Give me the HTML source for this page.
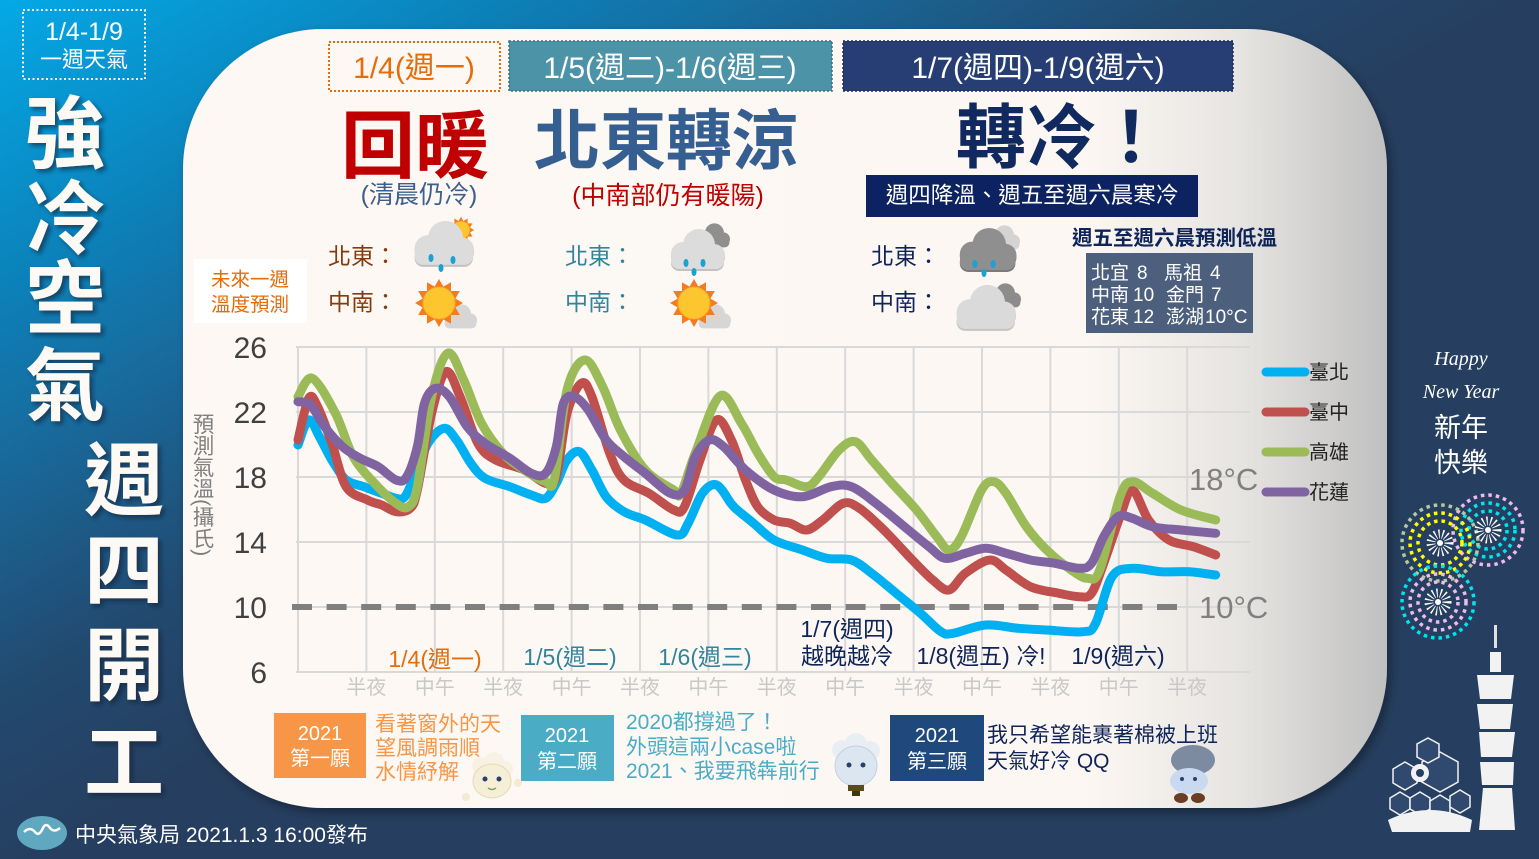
<!DOCTYPE html>
<html><head><meta charset="utf-8">
<style>
html,body{margin:0;padding:0;}
body{width:1539px;height:859px;overflow:hidden;position:relative;
background:linear-gradient(150deg,#04a9e6 0%,#0c80b8 17%,#176da0 25%,#22496f 40%,#263f60 50%,#263f60 100%);}
svg{position:absolute;left:0;top:0;}
svg text{font-family:"Liberation Sans","Noto Sans CJK TC",sans-serif;}
</style></head><body>
<svg id="root" width="1539" height="859" viewBox="0 0 1539 859" xmlns="http://www.w3.org/2000/svg">
<defs>
<linearGradient id="pg" x1="183" y1="0" x2="1387" y2="0" gradientUnits="userSpaceOnUse">
<stop offset="0" stop-color="#fdf8f4"/><stop offset="0.75" stop-color="#fcf7f3"/><stop offset="0.88" stop-color="#e6e4e1"/><stop offset="1" stop-color="#c0c0c0"/>
</linearGradient>
<filter id="psh" x="-5%" y="-5%" width="110%" height="115%"><feDropShadow dx="4" dy="5" stdDeviation="5" flood-color="#000" flood-opacity="0.35"/></filter>
<filter id="tsh" x="-20%" y="-20%" width="150%" height="150%"><feDropShadow dx="3" dy="3" stdDeviation="2" flood-color="#0a1a30" flood-opacity="0.6"/></filter>
<polygon id="star" points="24,0 16.4,4.4 20.8,12 12,12 12,20.8 4.4,16.4 0,24 -4.4,16.4 -12,20.8 -12,12 -20.8,12 -16.4,4.4 -24,0 -16.4,-4.4 -20.8,-12 -12,-12 -12,-20.8 -4.4,-16.4 0,-24 4.4,-16.4 12,-20.8 12,-12 20.8,-12 16.4,-4.4"/>
<g id="cloud"><circle cx="-12" cy="4" r="12"/><circle cx="4" cy="-5" r="16"/><circle cx="19" cy="5" r="11"/><rect x="-24" y="3" width="53" height="16" rx="8"/></g>
</defs>

<!-- top-left box -->
<rect x="23" y="10" width="122" height="69" fill="none" stroke="#ffffff" stroke-width="2" stroke-dasharray="2 2.5"/>
<text x="84" y="40" font-size="25" fill="#fff" text-anchor="middle">1/4-1/9</text>
<text x="84" y="67" font-size="22" fill="#fff" text-anchor="middle">一週天氣</text>

<!-- left big title -->
<g filter="url(#tsh)" fill="#fdfaf6" font-weight="bold" font-size="80" text-anchor="middle">
<text x="65" y="162">強</text>
<text x="65" y="247">冷</text>
<text x="65" y="327">空</text>
<text x="65" y="414">氣</text>
<text x="124" y="509">週</text>
<text x="124" y="599">四</text>
<text x="124" y="694">開</text>
<text x="124" y="791">工</text>
</g>

<!-- main panel -->
<rect x="183" y="29" width="1204" height="779" rx="140" ry="140" fill="url(#pg)" filter="url(#psh)"/>

<!-- headers -->
<rect x="329" y="42" width="171" height="49" fill="none" stroke="#e46c0a" stroke-width="2" stroke-dasharray="2 2"/>
<text x="414" y="78" font-size="30" fill="#e46c0a" text-anchor="middle">1/4(週一)</text>
<rect x="509" y="41" width="323" height="50" fill="#4d93a8" stroke="#3a6f82" stroke-width="1.5" stroke-dasharray="2 2"/>
<text x="670" y="78" font-size="30" fill="#fff" text-anchor="middle">1/5(週二)-1/6(週三)</text>
<rect x="843" y="41" width="390" height="50" fill="#263e74" stroke="#1a2c58" stroke-width="1.5" stroke-dasharray="2 2"/>
<text x="1038" y="78" font-size="30" fill="#fff" text-anchor="middle">1/7(週四)-1/9(週六)</text>

<!-- big words -->
<text x="415" y="172" font-size="74" font-weight="bold" fill="#c00000" text-anchor="middle">回暖</text>
<text x="419" y="203" font-size="25" fill="#3d5f8c" text-anchor="middle">(清晨仍冷)</text>
<text x="666" y="164" font-size="66" font-weight="bold" fill="#365f91" text-anchor="middle">北東轉涼</text>
<text x="668" y="204" font-size="25" fill="#c00000" text-anchor="middle">(中南部仍有暖陽)</text>
<text x="956" y="162" font-size="70" font-weight="bold" fill="#10295e">轉冷！</text>
<rect x="866" y="175" width="332" height="42" fill="#0d2260"/>
<text x="1032" y="203" font-size="22.5" fill="#fff" text-anchor="middle">週四降溫、週五至週六晨寒冷</text>

<!-- region labels -->
<g font-size="23">
<text x="328" y="264" fill="#843c0c">北東：</text>
<text x="328" y="310" fill="#843c0c">中南：</text>
<text x="565" y="264" fill="#31849b">北東：</text>
<text x="565" y="310" fill="#31849b">中南：</text>
<text x="871" y="264" fill="#0f2458">北東：</text>
<text x="871" y="310" fill="#0f2458">中南：</text>
</g>

<!-- icons: 1/4 north -->
<g transform="translate(461,230) scale(0.55)"><use href="#star" fill="#f47b20"/><circle r="16" fill="#fdc62f"/></g>
<use href="#cloud" transform="translate(441,246) scale(1.1)" fill="#c2c2c2"/>
<use href="#cloud" transform="translate(441,244) scale(1.1)" fill="#dcdcdc"/>
<g fill="#1ba1d4"><ellipse cx="431" cy="258" rx="2.5" ry="4"/><ellipse cx="453" cy="260" rx="2.5" ry="4"/><ellipse cx="441" cy="268" rx="2.5" ry="4"/></g>
<!-- 1/4 south -->
<use href="#cloud" transform="translate(459,317) scale(0.6)" fill="#d6d6d6"/>
<g transform="translate(439,303)"><use href="#star" fill="#f47b20"/><circle r="16" fill="#fdc62f" stroke="#f9a825" stroke-width="1"/></g>
<!-- middle north -->
<use href="#cloud" transform="translate(712,236) scale(0.6)" fill="#8f8f8f"/>
<use href="#cloud" transform="translate(695,252) scale(1.0)" fill="#c2c2c2"/>
<use href="#cloud" transform="translate(695,250) scale(1.0)" fill="#dcdcdc"/>
<g fill="#1ba1d4"><ellipse cx="686" cy="263" rx="2.5" ry="4"/><ellipse cx="703" cy="263" rx="2.5" ry="4"/><ellipse cx="694" cy="272" rx="2.5" ry="4"/></g>
<!-- middle south -->
<use href="#cloud" transform="translate(713,317) scale(0.6)" fill="#d6d6d6"/>
<g transform="translate(694,303)"><use href="#star" fill="#f47b20"/><circle r="16" fill="#fdc62f" stroke="#f9a825" stroke-width="1"/></g>
<!-- right north -->
<use href="#cloud" transform="translate(1002,238) scale(0.6)" fill="#d4d4d4"/>
<use href="#cloud" transform="translate(985,252) scale(1.05)" fill="#7a7a7a"/>
<use href="#cloud" transform="translate(985,250) scale(1.05)" fill="#8f8f8f"/>
<g fill="#1ba1d4"><ellipse cx="975" cy="264" rx="2.5" ry="4"/><ellipse cx="993" cy="264" rx="2.5" ry="4"/><ellipse cx="984" cy="273" rx="2.5" ry="4"/></g>
<!-- right south -->
<use href="#cloud" transform="translate(1003,296) scale(0.6)" fill="#8c8c8c"/>
<use href="#cloud" transform="translate(983,310) scale(1.1)" fill="#c4c4c4"/>
<use href="#cloud" transform="translate(983,308) scale(1.1)" fill="#dadada"/>

<!-- forecast label box -->
<rect x="194" y="259" width="113" height="64" fill="#ffffff"/>
<text x="250" y="286" font-size="19.5" fill="#e46c0a" text-anchor="middle">未來一週</text>
<text x="250" y="311" font-size="19.5" fill="#e46c0a" text-anchor="middle">溫度預測</text>

<!-- low temp box -->
<text x="1072" y="245" font-size="20.5" font-weight="bold" fill="#0f2458">週五至週六晨預測低溫</text>
<rect x="1086" y="253" width="167" height="80" fill="#4c5f7d"/>
<g font-size="19" fill="#fff">
<text x="1091" y="279">北宜</text><text x="1137" y="279">8</text><text x="1164" y="279">馬祖</text><text x="1210" y="279">4</text>
<text x="1091" y="301">中南</text><text x="1133" y="301">10</text><text x="1166" y="301">金門</text><text x="1211" y="301">7</text>
<text x="1091" y="323">花東</text><text x="1133" y="323">12</text><text x="1166" y="323">澎湖</text><text x="1205" y="323">10°C</text>
</g>

<!-- chart grid -->
<g stroke="#d9d9d9" stroke-width="2">
<line x1="296" y1="347" x2="1250" y2="347"/>
<line x1="296" y1="412" x2="1250" y2="412"/>
<line x1="296" y1="477" x2="1250" y2="477"/>
<line x1="296" y1="542" x2="1250" y2="542"/>
<line x1="296" y1="607" x2="1250" y2="607"/>
<line x1="296" y1="672" x2="1250" y2="672"/>
<line x1="298" y1="347" x2="298" y2="672"/>
<line x1="366.4" y1="347" x2="366.4" y2="672"/>
<line x1="434.8" y1="347" x2="434.8" y2="672"/>
<line x1="503.2" y1="347" x2="503.2" y2="672"/>
<line x1="571.6" y1="347" x2="571.6" y2="672"/>
<line x1="640" y1="347" x2="640" y2="672"/>
<line x1="708.4" y1="347" x2="708.4" y2="672"/>
<line x1="776.8" y1="347" x2="776.8" y2="672"/>
<line x1="845.2" y1="347" x2="845.2" y2="672"/>
<line x1="913.6" y1="347" x2="913.6" y2="672"/>
<line x1="982" y1="347" x2="982" y2="672"/>
<line x1="1050.4" y1="347" x2="1050.4" y2="672"/>
<line x1="1118.8" y1="347" x2="1118.8" y2="672"/>
<line x1="1187.2" y1="347" x2="1187.2" y2="672"/>
</g>
<line x1="292" y1="607" x2="1186" y2="607" stroke="#7f7f7f" stroke-width="6" stroke-dasharray="20 14.6"/>

<!-- y ticks -->
<g font-size="30" fill="#404040" text-anchor="end">
<text x="267" y="358">26</text>
<text x="267" y="423">22</text>
<text x="267" y="488">18</text>
<text x="267" y="553">14</text>
<text x="267" y="618">10</text>
<text x="267" y="683">6</text>
</g>
<text x="202" y="413" font-size="21.5" fill="#7f7f7f" writing-mode="tb" style="writing-mode:vertical-rl">預測氣溫(攝氏)</text>

<!-- x labels -->
<g font-size="20" fill="#c8c8c8" text-anchor="middle">
<text x="366.4" y="694">半夜</text><text x="434.8" y="694">中午</text>
<text x="503.2" y="694">半夜</text><text x="571.6" y="694">中午</text>
<text x="640" y="694">半夜</text><text x="708.4" y="694">中午</text>
<text x="776.8" y="694">半夜</text><text x="845.2" y="694">中午</text>
<text x="913.6" y="694">半夜</text><text x="982" y="694">中午</text>
<text x="1050.4" y="694">半夜</text><text x="1118.8" y="694">中午</text>
<text x="1187.2" y="694">半夜</text>
</g>

<!-- series -->
<g id="series" fill="none" stroke-width="9" stroke-linejoin="round" stroke-linecap="round">
<polyline class="s" stroke="#00b0f0" points="298,445 308.7,420 319.4,436.7 331.8,460 346.1,480 363.9,486.7 381.7,493.3 396,498.3 404.9,496.7 415,475 428,443.3 444,428.3 456.5,440 470.8,463.3 485,478.3 509.9,486.7 531.3,495 545.6,498.3 556.3,483.3 567,460 579.4,451.7 591.9,470 606.1,496.7 624,511.7 645.3,520 677.4,535 688.1,523.3 702.4,493.3 716.6,485 730.9,503.3 737.3,510 753.6,523.3 774,540 802.5,550 826.9,558.3 851.5,560 871.7,573.3 896.2,593.3 920.5,613.3 941,631.7 953.1,633.3 985.7,625 1018.3,628.3 1046.7,630 1083.4,631.7 1095.6,623.3 1112,576.7 1132.3,568.3 1160.8,571.7 1189.4,571.7 1215.7,575"/>
<polyline class="s" stroke="#c0504d" points="298,440 308.7,398.3 317.6,406.7 331.8,443.3 346.1,486.7 367.5,500 381.7,505 396,511.7 410.2,508.3 417.3,490 431.6,413.3 445.8,371.7 460.1,396.7 477.9,443.3 495.7,460 524.2,470 545.6,483.3 556.3,476.7 567,413.3 581.3,383.3 591.9,396.7 609.7,453.3 624,480 648.9,493.3 673.8,510 684.5,506.7 700,460 716.4,420 731.4,440 745.5,480 757.7,506.7 774,520 790.2,523.3 806.5,530 822.8,520 843.2,503.3 859.5,508.3 883.9,530 912.4,560 932.8,580 949,590 965.3,573.3 989.7,560 1006,570 1030.5,586.7 1059,593.3 1079.3,596.7 1091.5,593.3 1103.7,563.3 1120,516.7 1132.3,490 1148.6,520 1168.9,540 1193.4,546.7 1215.7,555"/>
<polyline class="s" stroke="#9bbb59" points="298,396.7 312.3,378.3 335.4,413.3 353.2,456.7 374.6,483.3 396,503.3 408.4,506.7 417.3,486.7 431.6,396.7 447.6,353.3 463.7,380 481.5,423.3 502.8,453.3 524.2,470 545.6,481.7 554.5,478.3 567,390 584.8,360 602.6,386.7 620.4,430 645.3,470 673.8,490 680.9,493.3 695.2,453.3 720,396 741.4,423.3 757.7,453 774,476.7 786.2,480 806.5,486.7 818.7,476.7 839.1,450 855.4,441.7 871.7,460 892,483.3 916.5,510 936.8,536.7 949,550 961.3,536.7 981.6,490 993.8,481.7 1006,493.3 1026.4,526.7 1046.7,550 1071.2,570 1087.5,578.3 1099.7,570 1120,496.7 1132.3,481.7 1152.6,493.3 1181.1,510 1215.7,520"/>
<polyline class="s" stroke="#8064a2" points="298,401.7 310.5,405 324.7,426.7 342.5,446.7 360.3,458.3 378.2,466.7 396,480 406.7,476.7 417.3,446.7 424.5,403.3 435.2,388.3 449.4,396.7 467.2,426.7 485,443.3 509.9,458.3 531.3,473.3 545.6,473.3 556.3,446.7 563.4,403.3 574.1,396.7 588.3,410 606.1,440 624,456.7 645.3,473.3 670.3,493.3 684.5,490 695.2,456.7 709.4,440 723.7,446.7 745.5,470 774,490 802.5,496.7 831,486.7 851.5,486.7 875.9,503.3 904.4,526.7 928.9,546.7 945.1,558.3 965.5,553.3 985.8,548.3 1006.2,553.3 1030.6,560 1055,563.3 1079.3,568.3 1091.5,563.3 1103.7,536.7 1118,516.7 1132.3,518.3 1152.6,526.7 1181.1,530 1215.7,533.3"/>
</g>

<!-- ref labels -->
<text x="1189" y="490" font-size="31" fill="#808080">18°C</text>
<text x="1199" y="618" font-size="31" fill="#808080">10°C</text>

<!-- legend -->
<g stroke-width="9" stroke-linecap="round">
<line x1="1266" y1="372" x2="1305" y2="372" stroke="#00b0f0"/>
<line x1="1266" y1="412" x2="1305" y2="412" stroke="#c0504d"/>
<line x1="1266" y1="452" x2="1305" y2="452" stroke="#9bbb59"/>
<line x1="1266" y1="492" x2="1305" y2="492" stroke="#8064a2"/>
</g>
<g font-size="20" fill="#222">
<text x="1309" y="379">臺北</text>
<text x="1309" y="419">臺中</text>
<text x="1309" y="459">高雄</text>
<text x="1309" y="499">花蓮</text>
</g>

<!-- day labels in chart -->
<g font-size="23" text-anchor="middle">
<text x="435" y="667" fill="#e46c0a">1/4(週一)</text>
<text x="570" y="665" fill="#31849b">1/5(週二)</text>
<text x="705" y="665" fill="#31849b">1/6(週三)</text>
<text x="847" y="637" fill="#0f2458">1/7(週四)</text>
<text x="847" y="664" fill="#0f2458">越晚越冷</text>
<text x="981" y="664" fill="#0f2458">1/8(週五) 冷!</text>
<text x="1118" y="664" fill="#0f2458">1/9(週六)</text>
</g>

<!-- bottom wishes -->
<rect x="274" y="713" width="92" height="65" fill="#f79646"/>
<text x="320" y="740" font-size="20" fill="#fff" text-anchor="middle">2021</text>
<text x="320" y="765" font-size="20" fill="#fff" text-anchor="middle">第一願</text>
<g font-size="21" fill="#f79646">
<text x="375" y="731">看著窗外的天</text>
<text x="375" y="755">望風調雨順</text>
<text x="375" y="779">水情紓解</text>
</g>
<rect x="521" y="715" width="93" height="66" fill="#4bacc6"/>
<text x="567" y="742" font-size="20" fill="#fff" text-anchor="middle">2021</text>
<text x="567" y="768" font-size="20" fill="#fff" text-anchor="middle">第二願</text>
<g font-size="21" fill="#4bacc6">
<text x="626" y="729">2020都撐過了！</text>
<text x="626" y="754">外頭這兩小case啦</text>
<text x="626" y="778">2021、我要飛犇前行</text>
</g>
<rect x="890" y="715" width="94" height="66" fill="#1f497d"/>
<text x="937" y="742" font-size="20" fill="#fff" text-anchor="middle">2021</text>
<text x="937" y="768" font-size="20" fill="#fff" text-anchor="middle">第三願</text>
<g font-size="21" fill="#0f2458">
<text x="987" y="742">我只希望能裹著棉被上班</text>
<text x="987" y="768">天氣好冷 QQ</text>
</g>

<!-- mascots -->
<g>
<circle cx="466" cy="797" r="4" fill="#f3ead0"/><circle cx="518" cy="783" r="4" fill="#f3ead0"/>
<circle cx="481" cy="766" r="9" fill="#f7f2e4"/><circle cx="494" cy="762" r="10" fill="#f7f2e4"/><circle cx="505" cy="769" r="8" fill="#f7f2e4"/>
<ellipse cx="492" cy="781" rx="19" ry="17" fill="#f6efd8" stroke="#e7d9b3" stroke-width="1"/>
<circle cx="485" cy="779" r="2.5" fill="#2a3f6c"/><circle cx="499" cy="779" r="2.5" fill="#2a3f6c"/>
<path d="M488 788 q4 3 8 0" stroke="#8aa060" stroke-width="1.5" fill="none"/>
</g>
<g>
<circle cx="842" cy="750" r="10" fill="#e9eef4"/><circle cx="856" cy="744" r="11" fill="#e9eef4"/><circle cx="870" cy="751" r="10" fill="#e9eef4"/>
<ellipse cx="856" cy="766" rx="21" ry="20" fill="#dce6f0" stroke="#c2d0e0" stroke-width="1"/>
<circle cx="849" cy="765" r="2.5" fill="#2a3f6c"/><circle cx="863" cy="765" r="2.5" fill="#2a3f6c"/>
<rect x="848" y="785" width="16" height="6" fill="#5a4a1c"/><rect x="852" y="791" width="8" height="5" fill="#3f3514"/>
</g>
<g>
<ellipse cx="1193" cy="760" rx="22" ry="15" fill="#7d8ba0"/>
<ellipse cx="1189" cy="781" rx="19" ry="13" fill="#c9daf0"/>
<circle cx="1182" cy="779" r="2" fill="#2a3f6c"/><circle cx="1195" cy="779" r="2" fill="#2a3f6c"/>
<ellipse cx="1181" cy="798" rx="7" ry="5" fill="#6b3d22"/><ellipse cx="1198" cy="798" rx="7" ry="5" fill="#6b3d22"/>
</g>

<!-- footer -->
<ellipse cx="42" cy="833" rx="25" ry="17" fill="#5fa8bf"/>
<path d="M24 832 q6 -6 11 0 q4 5 8 -4 q3 -6 7 0 q4 5 10 0" stroke="#fff" stroke-width="2.5" fill="none"/>
<text x="75" y="842" font-size="21" fill="#fff">中央氣象局 2021.1.3 16:00發布</text>

<!-- right side -->
<text x="1461" y="365" font-size="20" fill="#fff" text-anchor="middle" font-style="italic" style="font-family:'Liberation Serif',serif">Happy</text>
<text x="1461" y="398" font-size="20" fill="#fff" text-anchor="middle" font-style="italic" style="font-family:'Liberation Serif',serif">New Year</text>
<text x="1461" y="437" font-size="27" fill="#fff" text-anchor="middle">新年</text>
<text x="1461" y="472" font-size="27" fill="#fff" text-anchor="middle">快樂</text>

<!-- fireworks -->
<g fill="none" stroke-width="3.5">
<circle cx="1488" cy="530" r="35" stroke="#eebbee" stroke-dasharray="3.5 4"/>
<circle cx="1488" cy="530" r="27" stroke="#00e5ee" stroke-dasharray="3.5 4"/>
<circle cx="1488" cy="530" r="19" stroke="#00e5ee" stroke-dasharray="3.5 4"/>
<circle cx="1440" cy="543" r="38" stroke="#b5c99a" stroke-dasharray="3.5 4"/>
<circle cx="1440" cy="543" r="30" stroke="#ffff00" stroke-dasharray="3.5 4"/>
<circle cx="1440" cy="543" r="22" stroke="#ffff00" stroke-dasharray="3.5 4"/>
<circle cx="1438" cy="602" r="36" stroke="#00e5ee" stroke-dasharray="3.5 4"/>
<circle cx="1438" cy="602" r="28" stroke="#eebbee" stroke-dasharray="3.5 4"/>
<circle cx="1438" cy="602" r="20" stroke="#eebbee" stroke-dasharray="3.5 4"/>
<circle cx="1440" cy="543" r="9" stroke="#fff" stroke-width="9" stroke-dasharray="1.2 2.5"/>
<circle cx="1488" cy="530" r="9" stroke="#fff" stroke-width="9" stroke-dasharray="1.2 2.5"/>
<circle cx="1438" cy="602" r="9" stroke="#fff" stroke-width="9" stroke-dasharray="1.2 2.5"/>
</g>
<circle cx="1440" cy="543" r="3" fill="#fff"/><circle cx="1488" cy="530" r="3" fill="#fff"/><circle cx="1438" cy="602" r="3" fill="#fff"/>

<!-- Taipei 101 -->
<g fill="#f2f2f2">
<rect x="1494" y="625" width="3" height="23" fill="#e0e0e0"/>
<rect x="1490" y="652" width="11" height="20"/>
<polygon points="1477,675 1514,675 1511,699 1480,699"/>
<polygon points="1477,704 1513,704 1510,729 1480,729"/>
<polygon points="1479,732 1515,732 1512,757 1481,757"/>
<polygon points="1480,762 1514,762 1513,785 1482,785"/>
<polygon points="1483,788 1512,788 1515,830 1479,830"/>
</g>
<!-- dome / hex structure -->
<g stroke="#f2f2f2" stroke-width="1.5" fill="#2f4a6e">
<polygon points="1440,752 1458,762 1458,782 1440,792 1422,782 1422,762"/>
<polygon points="1405,762 1417,769 1417,783 1405,790 1393,783 1393,769"/>
<polygon points="1428,738 1439,744 1439,757 1428,763 1417,757 1417,744"/>
<polygon points="1400,792 1410,798 1410,809 1400,815 1390,809 1390,798"/>
<polygon points="1420,792 1430,798 1430,809 1420,815 1410,809 1410,798"/>
<polygon points="1440,795 1450,801 1450,812 1440,818 1430,812 1430,801"/>
<polygon points="1460,790 1470,796 1470,807 1460,813 1450,807 1450,796"/>
</g>
<circle cx="1420" cy="773" r="9" fill="#f2f2f2"/><circle cx="1420" cy="773" r="4" fill="#263f60"/>
<path d="M1388 820 Q1430 800 1472 820 L1470 832 L1392 832 Z" fill="#f2f2f2"/>
</svg>
<script>
(function(){
  var NS="http://www.w3.org/2000/svg";
  var pls=document.querySelectorAll("polyline.s");
  for(var i=0;i<pls.length;i++){
    var pl=pls[i];
    var raw=pl.getAttribute("points").trim().split(/\s+/);
    var p=raw.map(function(s){var a=s.split(",");return [parseFloat(a[0]),parseFloat(a[1])];});
    var d="M"+p[0][0]+","+p[0][1];
    for(var j=0;j<p.length-1;j++){
      var p0=p[j-1]||p[j],p1=p[j],p2=p[j+1],p3=p[j+2]||p2;
      var c1x=p1[0]+(p2[0]-p0[0])/6,c1y=p1[1]+(p2[1]-p0[1])/6;
      var c2x=p2[0]-(p3[0]-p1[0])/6,c2y=p2[1]-(p3[1]-p1[1])/6;
      d+=" C"+c1x.toFixed(1)+","+c1y.toFixed(1)+" "+c2x.toFixed(1)+","+c2y.toFixed(1)+" "+p2[0]+","+p2[1];
    }
    var path=document.createElementNS(NS,"path");
    path.setAttribute("d",d);
    path.setAttribute("stroke",pl.getAttribute("stroke"));
    pl.parentNode.replaceChild(path,pl);
  }
})();
</script>
</body></html>
